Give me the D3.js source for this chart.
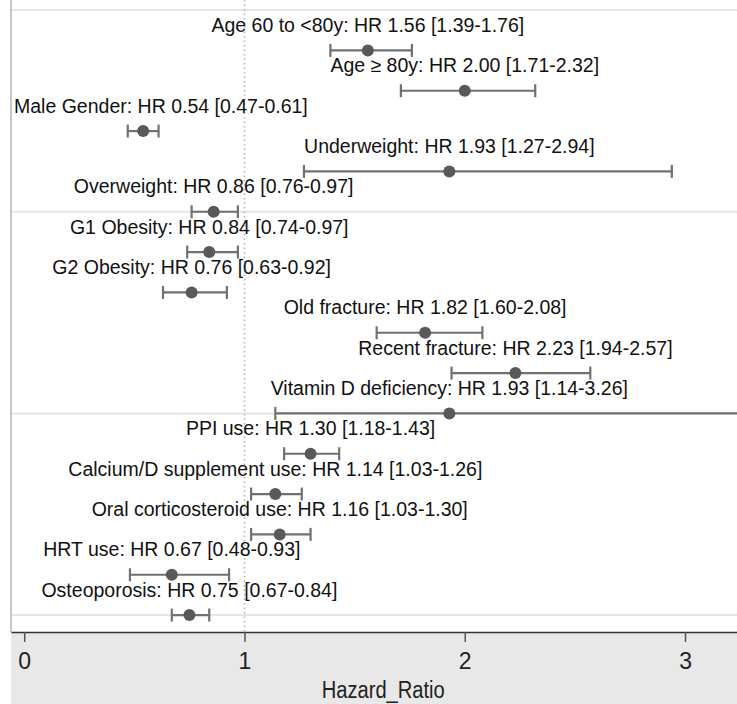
<!DOCTYPE html>
<html>
<head>
<meta charset="utf-8">
<script src="https://cdn.jsdelivr.net/npm/d3@7"></script>
<style>
  body { margin: 0; background: #fff; }
  text { font-family: "Liberation Sans", Arial, Helvetica, sans-serif; }
</style>
</head>
<body>
<script>

// Forest plot of hazard ratios (top row first)
const labels = ["Age 60 to <80y", "Age \u2265 80y", "Male Gender", "Underweight", "Overweight",
                "G1 Obesity", "G2 Obesity", "Old fracture", "Recent fracture", "Vitamin D deficiency",
                "PPI use", "Calcium/D supplement use", "Oral corticosteroid use", "HRT use", "Osteoporosis"];
const hr    = [1.56, 2.00, 0.54, 1.93, 0.86, 0.84, 0.76, 1.82, 2.23, 1.93, 1.30, 1.14, 1.16, 0.67, 0.75];
const lower = [1.39, 1.71, 0.47, 1.27, 0.76, 0.74, 0.63, 1.60, 1.94, 1.14, 1.18, 1.03, 1.03, 0.48, 0.67];
const upper = [1.76, 2.32, 0.61, 2.94, 0.97, 0.97, 0.92, 2.08, 2.57, 3.26, 1.43, 1.26, 1.30, 0.93, 0.84];
const xTicks = [0, 1, 2, 3];
const yGrid = [0, 5, 10, 15];
const xTitle = "Hazard_Ratio";

const rows = labels.map((d, i) => ({
  name: d, hr: hr[i], lo: lower[i], hi: upper[i], pos: labels.length - 1 - i
}));

const W = 737, H = 704;
const plotLeft = 11, axisY = 632;

const svg = d3.select("body").append("svg")
  .attr("width", W)
  .attr("height", H);

const x = d3.scaleLinear().domain([-0.06, 3.236]).range([plotLeft, W]);
const y = d3.scaleLinear().domain([-0.42, 15.25]).range([axisY, 0]);

// grey band below the plot region
svg.append("rect")
  .attr("x", plotLeft).attr("y", axisY)
  .attr("width", W - plotLeft).attr("height", H - axisY)
  .attr("fill", "#e8e8e8");

// horizontal grid
svg.append("g").selectAll("line")
  .data(yGrid)
  .join("line")
  .attr("x1", plotLeft).attr("x2", W)
  .attr("y1", d => y(d)).attr("y2", d => y(d))
  .attr("stroke", "#e6e6e6")
  .attr("stroke-width", 2);

// left border
svg.append("line")
  .attr("x1", plotLeft).attr("x2", plotLeft)
  .attr("y1", 0).attr("y2", axisY)
  .attr("stroke", "#b4b4b4")
  .attr("stroke-width", 1.5);

// reference line at HR = 1
svg.append("line")
  .attr("x1", x(1)).attr("x2", x(1))
  .attr("y1", 0).attr("y2", axisY)
  .attr("stroke", "#b0b0b0")
  .attr("stroke-width", 1.5)
  .attr("stroke-dasharray", "1.5,3");

// confidence intervals
const ci = svg.append("g").selectAll("g")
  .data(rows)
  .join("g")
  .attr("stroke", "#707070")
  .attr("stroke-width", 2.2);

ci.append("line")
  .attr("x1", d => x(d.lo)).attr("x2", d => x(d.hi))
  .attr("y1", d => y(d.pos)).attr("y2", d => y(d.pos));
ci.append("line")
  .attr("x1", d => x(d.lo)).attr("x2", d => x(d.lo))
  .attr("y1", d => y(d.pos) - 6.5).attr("y2", d => y(d.pos) + 6.5);
ci.append("line")
  .attr("x1", d => x(d.hi)).attr("x2", d => x(d.hi))
  .attr("y1", d => y(d.pos) - 6.5).attr("y2", d => y(d.pos) + 6.5);

// point estimates
svg.append("g").selectAll("circle")
  .data(rows)
  .join("circle")
  .attr("cx", d => x(d.hr))
  .attr("cy", d => y(d.pos))
  .attr("r", 6)
  .attr("fill", "#595959");

// labels above each marker, kept inside the plot on the left
const lab = svg.append("g").selectAll("text")
  .data(rows)
  .join("text")
  .attr("y", d => y(d.pos) - 18.5)
  .attr("font-size", 19.5)
  .attr("fill", "#111")
  .text(d => `${d.name}: HR ${d.hr.toFixed(2)} [${d.lo.toFixed(2)}-${d.hi.toFixed(2)}]`);

lab.each(function(d) {
  const w = this.getComputedTextLength();
  let left = x(d.hr) - w / 2;
  if (left < plotLeft + 3) left = plotLeft + 3;
  d3.select(this).attr("x", left);
});

// x axis
const xAxisGenerator = d3.axisBottom(x)
  .tickValues(xTicks)
  .tickFormat(d3.format("d"))
  .tickSize(10)
  .tickSizeOuter(0)
  .tickPadding(11);

const xAxis = svg.append("g")
  .attr("transform", `translate(0,${axisY})`)
  .call(xAxisGenerator);

xAxis.select(".domain")
  .attr("stroke", "#333")
  .attr("stroke-width", 1.5);
xAxis.selectAll(".tick line")
  .attr("stroke", "#555")
  .attr("stroke-width", 1.5);
xAxis.selectAll(".tick text")
  .attr("font-size", 23)
  .attr("font-family", "Liberation Sans, Arial, sans-serif")
  .attr("fill", "#222");

svg.append("text")
  .attr("x", x(1.63))
  .attr("y", 698)
  .attr("text-anchor", "middle")
  .attr("font-size", 23)
  .attr("textLength", 123)
  .attr("lengthAdjust", "spacingAndGlyphs")
  .attr("fill", "#222")
  .text(xTitle);

</script>
</body>
</html>
